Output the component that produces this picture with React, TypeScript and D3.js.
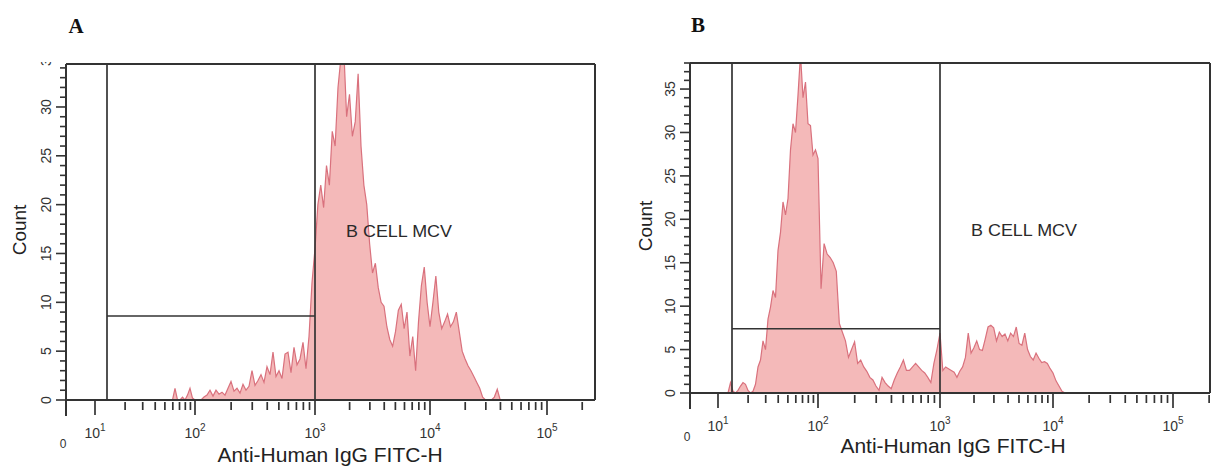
import React from 'react';
import * as d3 from 'd3';

// histogram bins are in log10 units (channel = 10^x), fixed width
const BIN_WIDTH = 0.025;

// Panel A counts, first bin at 10^1.8
const binStartA = 1.8;
const countsA = [
  1.2, 0, 0, 0.3, 0, 0.5, 1.2, 0.2, 0, 0, 0, 0.3, 0.5, 1.0, 0.4, 1.0, 0.6, 0.8, 0.5, 1.2,
  1.9, 0.9, 1.2, 0.7, 1.6, 1.0, 1.4, 3.0, 1.5, 2.0, 2.6, 1.8, 3.4, 2.6, 4.9, 2.4, 3.0, 2.2, 4.7, 4.9,
  2.8, 5.4, 3.6, 4.2, 5.9, 3.2, 6.5, 12.0, 15.5, 20, 22, 19.7, 24, 22, 27.5, 26, 32, 35, 36, 29,
  31.3, 27, 28.5, 33.4, 26, 22, 20, 16, 13, 14, 11.5, 10, 9.6, 7.5, 6.2, 5.5, 7, 9.2, 9.8, 7.3,
  9.0, 4.5, 6.5, 3.0, 8, 11.7, 13.6, 10, 7.5, 10, 12.7, 9, 7.3, 8, 8.8, 7.5, 8, 9, 7, 5.0,
  4.2, 3.5, 3.0, 2.4, 1.8, 1.2, 0.3, 0, 0, 0, 0.3, 1.1, 0,
];

// Panel B counts, first bin at 10^1.1
const binStartB = 1.1;
const countsB = [
  0, 1.2, 0.2, 0, 0.3, 0.8, 1.2, 1.0, 0.3, 0, 0.2, 1.0, 3.0, 3.8, 6.0, 5.0, 8.5, 9.9, 11.8, 11.0,
  16.4, 18.5, 22, 20.5, 22.4, 28, 31, 30, 34.3, 39, 34, 35.8, 31, 30.8, 27.4, 28, 27, 12, 17.2, 16,
  15.6, 15, 14, 8, 7, 6, 4.1, 5, 5.9, 3.4, 3.8, 3.0, 2.5, 1.8, 1.5, 0.8, 0.3, 1.8, 1.2, 0.8,
  0.5, 1.5, 2.3, 3.0, 3.8, 2.6, 2.6, 3.0, 3.4, 3.0, 2.6, 2.3, 1.8, 1.2, 3.4, 5.0, 6.9, 2.6, 3.0, 2.8,
  2.6, 2.4, 1.8, 2.5, 3.0, 4.1, 6.9, 4.6, 5.2, 6.0, 5.0, 4.9, 6.2, 7.6, 7.8, 7.5, 6.0, 7.0, 6.5, 6.8,
  6.0, 6.9, 6.5, 7.6, 5.7, 5.5, 6.9, 5.0, 4.2, 3.8, 4.6, 4.0, 3.5, 3.6, 3.4, 2.8, 2.3, 1.4, 0.8, 0.2, 0,
];

const decades = [1, 2, 3, 4, 5];
const minorFactors = [2, 3, 4, 5, 6, 7, 8, 9];
const yTickValues = [0, 5, 10, 15, 20, 25, 30, 35];
// gates: lower bound (log10), upper bound (log10), marker level (count)
const gateLow = [1.12, 1.14];
const gateHigh = [3, 3];
const markerLevel = [8.6, 7.4];
const panelTitles = ['A', 'B'];
const gateLabel = 'B CELL MCV';
const xLabel = 'Anti-Human IgG FITC-H';
const yLabel = 'Count';

const FRAME = '#333';
const FILL = '#f4b9b9';
const EDGE = '#d9717d';
const SANS = '"Liberation Sans", Arial, sans-serif';

type Layout = {
  left: number; right: number; top: number; bottom: number;
  decadePx: number[]; xMax: number; yMax: number;
  labelX: number; labelY: number; countX: number; countY: number; titleX: number; titleY: number;
};

const layouts: Layout[] = [
  { left: 66, right: 595, top: 64, bottom: 400, decadePx: [66, 95, 195, 315, 430, 547], xMax: 5.41, yMax: 34.4,
    labelX: 330, labelY: 462, countX: 19, countY: 230, titleX: 76, titleY: 33 },
  { left: 690, right: 1210, top: 63, bottom: 393, decadePx: [690, 718, 818, 940, 1053, 1173], xMax: 5.31, yMax: 38,
    labelX: 953, labelY: 453, countX: 645, countY: 226, titleX: 698, titleY: 32 },
];

const Panel = ({ idx, start, counts }: { idx: number; start: number; counts: number[] }) => {
  const L = layouts[idx];
  const x = d3.scaleLinear()
    .domain([0, 1, 2, 3, 4, 5, L.xMax])
    .range([...L.decadePx, L.decadePx[5] + (L.xMax - 5) * (L.decadePx[5] - L.decadePx[4])]);
  const y = d3.scaleLinear().domain([0, L.yMax]).range([L.bottom, L.top]);

  const pts: [number, number][] = counts.map((c, i) => [start + i * BIN_WIDTH, c]);
  pts.unshift([start - BIN_WIDTH, 0]);
  pts.push([start + counts.length * BIN_WIDTH, 0]);
  const area = d3.area<[number, number]>().x(d => x(d[0])).y0(y(0)).y1(d => y(d[1]));

  const minors: number[] = [];
  decades.forEach(d => minorFactors.forEach(k => {
    const v = d + Math.log10(k);
    if (v < L.xMax) minors.push(v);
  }));
  const yMinor = d3.range(0, Math.floor(L.yMax) + 1);
  const clipId = `clip-${idx}`;
  const labClip = `lab-${idx}`;

  return (
    <g>
      <defs>
        <clipPath id={clipId}>
          <rect x={L.left} y={L.top} width={L.right - L.left} height={L.bottom - L.top} />
        </clipPath>
        <clipPath id={labClip}>
          <rect x={L.left - 40} y={L.top - 2} width={40} height={L.bottom - L.top + 20} />
        </clipPath>
      </defs>
      <text x={L.titleX} y={L.titleY} textAnchor="middle" fontFamily='"Liberation Serif", "Times New Roman", serif'
        fontWeight="bold" fontSize={21} fill="#111">{panelTitles[idx]}</text>

      <path d={area(pts) || ''} fill={FILL} stroke={EDGE} strokeWidth={1.2} strokeLinejoin="miter" clipPath={`url(#${clipId})`} />

      {/* gate markers */}
      <g stroke={FRAME} strokeWidth={1.7} fill="none">
        <line x1={x(gateLow[idx])} x2={x(gateLow[idx])} y1={L.top} y2={L.bottom} />
        <line x1={x(gateHigh[idx])} x2={x(gateHigh[idx])} y1={L.top} y2={L.bottom} />
        <line x1={x(gateLow[idx])} x2={x(gateHigh[idx])} y1={y(markerLevel[idx])} y2={y(markerLevel[idx])} />
      </g>
      <text x={x(gateHigh[idx]) + 31} y={L.top + 173} fontFamily={SANS} fontSize={17} fill="#2a2a2a"
        textLength={106} lengthAdjust="spacingAndGlyphs">{gateLabel}</text>

      {/* frame */}
      <g stroke={FRAME} strokeWidth={2} fill="none">
        <line x1={L.left} x2={L.right} y1={L.top} y2={L.top} />
        <line x1={L.right} x2={L.right} y1={L.top} y2={L.bottom} />
        <line x1={L.left} x2={L.left} y1={L.top} y2={L.bottom + 16} />
        <line x1={L.left} x2={L.right} y1={L.bottom} y2={L.bottom} />
      </g>

      {/* x ticks */}
      <g stroke={FRAME} strokeWidth={1.7}>
        {decades.map(d => <line key={d} x1={x(d)} x2={x(d)} y1={L.bottom} y2={L.bottom + 15} />)}
        {minors.map(v => <line key={v} x1={x(v)} x2={x(v)} y1={L.bottom + 2} y2={L.bottom + 10} />)}
      </g>
      <g fontFamily={SANS} fill="#333" textAnchor="middle">
        <text x={x(0) - 3} y={L.bottom + 48} fontSize={12}>0</text>
        {decades.map(d => (
          <text key={d} x={x(d)} y={L.bottom + 38} fontSize={14}>10<tspan dy={-7} fontSize={10}>{d}</tspan></text>
        ))}
      </g>

      {/* y ticks */}
      <g stroke={FRAME} strokeWidth={1.6}>
        {yMinor.map(v => (
          <line key={v} x1={L.left - (v % 5 === 0 ? 10 : 6)} x2={L.left} y1={y(v)} y2={y(v)} />
        ))}
      </g>
      <g fontFamily={SANS} fill="#333" fontSize={14} textAnchor="middle" clipPath={`url(#${labClip})`}>
        {yTickValues.map(v => (
          <text key={v} transform={`translate(${L.left - 20},${y(v)}) rotate(-90)`} dominantBaseline="central">{v}</text>
        ))}
      </g>

      <text x={L.labelX} y={L.labelY} textAnchor="middle" fontFamily={SANS} fontSize={21} fill="#222">{xLabel}</text>
      <text transform={`translate(${L.countX},${L.countY}) rotate(-90)`} textAnchor="middle" dominantBaseline="central"
        fontFamily={SANS} fontSize={19} fill="#222">{yLabel}</text>
    </g>
  );
};

export default function App() {
  return (
    <svg width={1213} height={470} style={{ position: 'absolute', left: 0, top: 0, background: '#fff' }}>
      <rect width={1213} height={470} fill="#fff" />
      <Panel idx={0} start={binStartA} counts={countsA} />
      <Panel idx={1} start={binStartB} counts={countsB} />
    </svg>
  );
}
